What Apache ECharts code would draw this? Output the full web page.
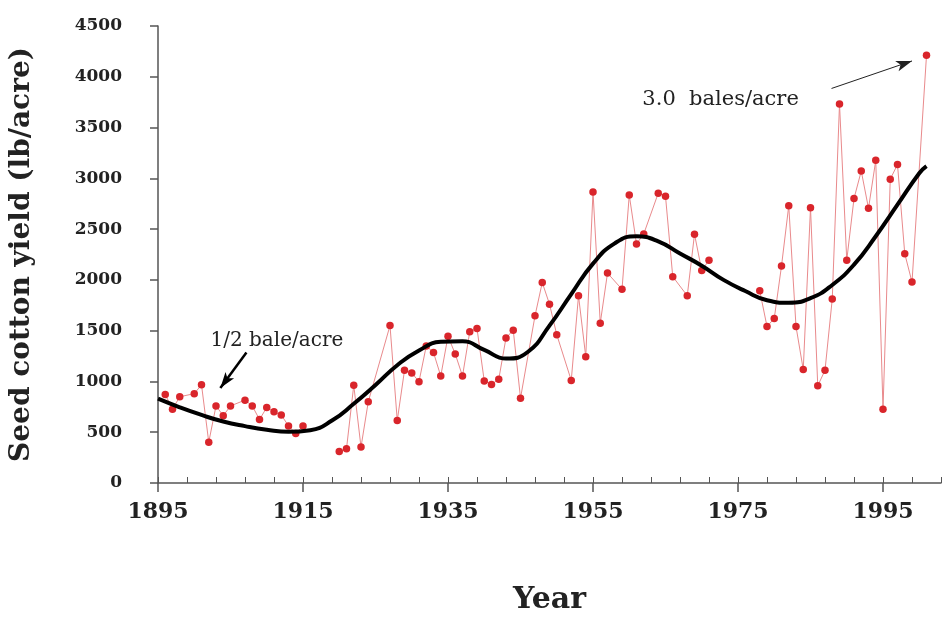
<!DOCTYPE html>
<html>
<head>
<meta charset="utf-8">
<script src="https://cdn.jsdelivr.net/npm/echarts@6/dist/echarts.min.js"></script>
<style>
html,body{margin:0;padding:0;background:#fff;}
#chart{width:942px;height:620px;}
</style>
</head>
<body>
<div id="chart"></div>
<script>
// ---- data ----
const BASE_YEAR = 1895;
const years = [1896,1897,1898,1900,1901,1902,1903,1904,1905,1907,1908,1909,1910,1911,1912,1913,1914,1915,1916,
  1920,1921,1922,1923,1924,1927,1928,1929,1930,1931,1932,1933,1934,1935,1936,1937,1938,1939,1940,1941,1942,1943,1944,1945,
  1947,1948,1949,1950,1952,1953,1954,1955,1956,1957,1959,1960,1961,1962,1964,1965,1966,1968,1969,1970,1971,1972,
  1978,1979,1980,1981,1982,1983,1984,1985,1986,1987,1988,1989,1990,1991,1992,1993,1994,1995,1996,1997,1998,1999,2001];
const yields = [871,727,849,880,967,402,759,663,759,816,759,625,744,701,670,562,488,562,null,
  310,338,962,354,799,1550,615,1110,1084,998,1349,1285,1053,1445,1270,1053,1490,1521,1005,971,1021,1429,1505,835,
  1646,1974,1761,1461,1010,1844,1244,2866,1574,2067,1907,2835,2354,2453,2854,2823,2032,1844,2450,2092,2194,null,
  1892,1541,1620,2137,2730,1541,1117,2711,957,1110,1812,3732,2194,2801,3072,2705,3177,727,2992,3136,2258,1978,4211];
const trendYears = [1895,1898,1901,1904,1907,1910,1913,1916,1919,1922,1925,1928,1931,1934,1937,1940,1943,1946,1949,1952,1955,1958,1961,1964,1967,1970,1973,1976,1979,1982,1985,1988,1991,1994,1997,2000,2001];
const trendValues = [830,745,670,605,560,525,505,520,615,780,965,1160,1305,1390,1395,1310,1225,1290,1550,1860,2160,2360,2430,2380,2260,2140,2000,1890,1800,1775,1820,1950,2150,2430,2740,3050,3120];
const xTickYears = [1895,1915,1935,1955,1975,1995];
const yMax = 4500, yStep = 500;
const xSpan = 108; // years shown on the axis after 1895

const FONT = 'DejaVu Serif';
const yieldData = years.map((y, i) => [y - BASE_YEAR, yields[i]]);
const trendData = trendYears.map((y, i) => [y - BASE_YEAR, trendValues[i]]);
const majorTicks = xTickYears.map(y => y - BASE_YEAR);

const chart = echarts.init(document.getElementById('chart'), null, {renderer: 'canvas'});
chart.setOption({
  animation: false,
  backgroundColor: '#ffffff',
  grid: {left: 158, right: 1, top: 26, bottom: 124, containLabel: false},
  xAxis: [{
    type: 'value', min: 0, max: xSpan, interval: 20, position: 'bottom',
    name: 'Year', nameLocation: 'middle', nameGap: 102,
    nameTextStyle: {fontFamily: FONT, fontWeight: 'bold', fontSize: 30, color: '#222'},
    axisLine: {show: true, lineStyle: {color: '#555', width: 1.5}},
    axisTick: {show: true, inside: false, length: 9, customValues: majorTicks, lineStyle: {color: '#555', width: 1.5}},
    axisLabel: {show: true, customValues: majorTicks, margin: 18,
      formatter: v => String(v + BASE_YEAR),
      fontFamily: FONT, fontWeight: 'bold', fontSize: 22, color: '#222'},
    splitLine: {show: false}
  }, {
    type: 'value', min: 0, max: xSpan, interval: 4, position: 'bottom',
    axisLine: {show: false},
    axisTick: {show: true, inside: true, length: 6, lineStyle: {color: '#555', width: 1}},
    axisLabel: {show: false},
    splitLine: {show: false}
  }],
  yAxis: {
    type: 'value', min: 0, max: yMax, interval: yStep,
    name: 'Seed cotton yield (lb/acre)', nameLocation: 'middle', nameGap: 122,
    nameTextStyle: {fontFamily: FONT, fontWeight: 'bold', fontSize: 28, color: '#222'},
    axisLine: {show: true, lineStyle: {color: '#555', width: 1.5}},
    axisTick: {show: true, inside: false, length: 8, lineStyle: {color: '#555', width: 1.5}},
    axisLabel: {fontFamily: FONT, fontWeight: 'bold', fontSize: 17, color: '#222', margin: 36,
      formatter: v => String(v)},
    splitLine: {show: false}
  },
  series: [{
    type: 'line', name: 'Yield', xAxisIndex: 0,
    data: yieldData, connectNulls: false,
    symbol: 'circle', symbolSize: 7.5, showSymbol: true,
    lineStyle: {color: '#e98a8c', width: 1},
    itemStyle: {color: '#d9252b'},
    z: 2
  }, {
    type: 'line', name: 'Trend', xAxisIndex: 0,
    data: trendData, smooth: 0.5, showSymbol: false, symbol: 'none',
    lineStyle: {color: '#000', width: 4},
    z: 3,
    markLine: {
      silent: true, animation: false,
      symbol: ['none', 'arrow'],
      label: {show: false},
      data: [
        [{coord: [1907.2 - BASE_YEAR, 1285], lineStyle: {color: '#000', width: 2.5, type: 'solid'}, symbolSize: 16},
         {coord: [1903.6 - BASE_YEAR, 935]}],
        [{coord: [1987.9 - BASE_YEAR, 3885], lineStyle: {color: '#222', width: 1, type: 'solid'}, symbolSize: 15},
         {coord: [1999.0 - BASE_YEAR, 4156]}]
      ]
    },
    markPoint: {
      silent: true, symbol: 'circle', symbolSize: 0,
      label: {show: true, position: 'inside', fontFamily: FONT, fontSize: 20, color: '#222'},
      data: [
        {coord: [1911.4 - BASE_YEAR, 1405], label: {formatter: '1/2 bale/acre'}},
        {coord: [1972.6 - BASE_YEAR, 3780], label: {formatter: '3.0  bales/acre', fontSize: 21}}
      ]
    }
  }]
});
</script>
</body>
</html>
